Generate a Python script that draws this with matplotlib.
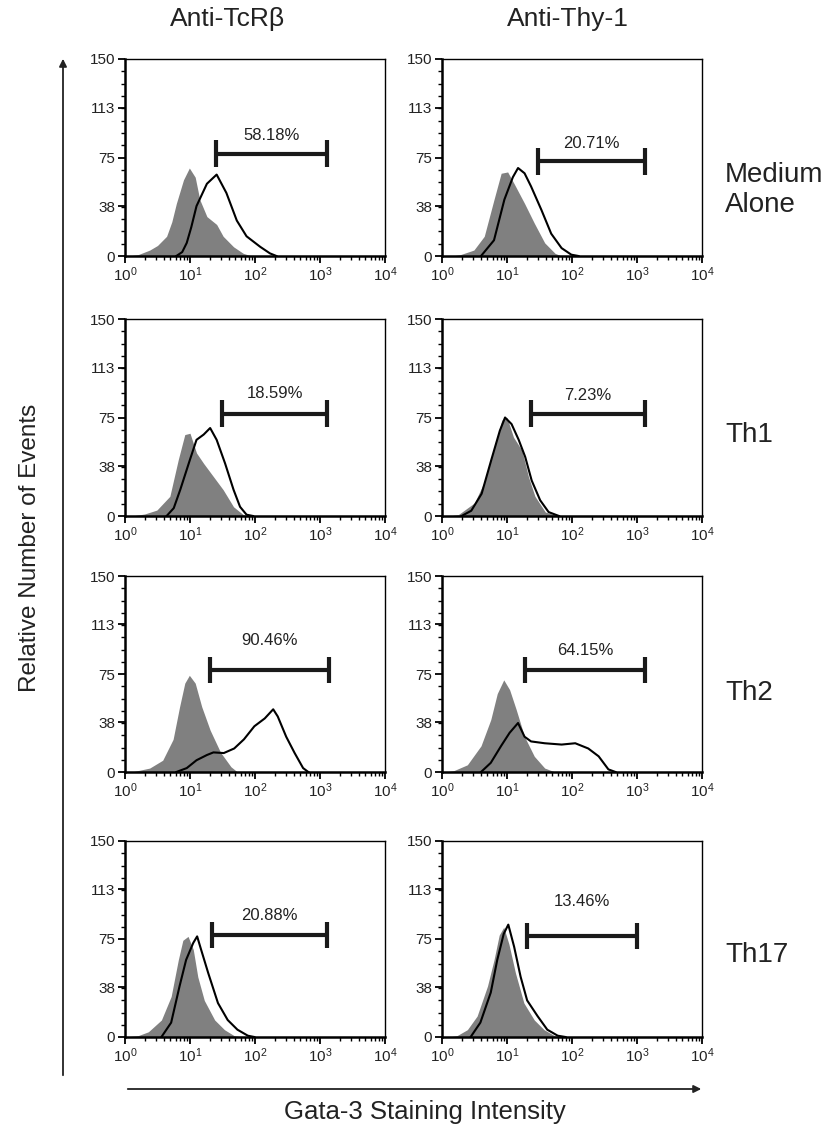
import numpy as np
import matplotlib
matplotlib.use("Agg")
import matplotlib.pyplot as plt
from matplotlib.ticker import FixedLocator, LogLocator, NullFormatter

plt.rcParams['font.family'] = ['Liberation Sans', 'DejaVu Sans']
plt.rcParams['mathtext.fontset'] = 'custom'
plt.rcParams['mathtext.rm'] = 'Liberation Sans'
plt.rcParams['mathtext.it'] = 'Liberation Sans'
plt.rcParams['mathtext.bf'] = 'Liberation Sans'

col_titles = ["Anti-TcRβ", "Anti-Thy-1"]
row_labels = ["Medium\nAlone", "Th1", "Th2", "Th17"]
y_ticks = [0, 38, 75, 113, 150]
percent_labels = ["58.18%", "20.71%", "18.59%", "7.23%",
                  "90.46%", "64.15%", "20.88%", "13.46%"]

# gate [left, right] in intensity units, height in events
gate_left = [25, 30, 31, 23, 20, 19, 22, 20]
gate_right = [1260, 1350, 1290, 1350, 1380, 1350, 1260, 1000]
gate_y = [78, 72, 78, 78, 78, 78, 78, 77]
label_y = [92, 86, 93, 92, 101, 93, 93, 104]

# ---- histograms: decade positions (log10 intensity) and counts ----
# Panel 1: TcRb / Medium alone
g1_x = [0.05, 0.2, 0.38, 0.5, 0.64, 0.72, 0.79, 0.9, 0.99, 1.08, 1.15, 1.26, 1.41, 1.51, 1.67, 1.82, 1.95]
g1_y = [0, 1, 4.5, 8, 15, 26, 40, 58, 67, 60, 43, 30, 24, 15, 7, 2, 0]
b1_x = [0.79, 0.88, 0.95, 1.02, 1.1, 1.26, 1.41, 1.56, 1.72, 1.87, 2.08, 2.23, 2.33]
b1_y = [0, 3, 10, 22, 38, 55, 62, 48, 27, 15, 7, 2, 0]
# Panel 2: Thy-1 / Medium alone
g2_x = [0.15, 0.28, 0.49, 0.65, 0.8, 0.91, 1.01, 1.11, 1.27, 1.42, 1.58, 1.74, 1.84]
g2_y = [0, 1, 4.5, 15, 43, 63, 64, 55, 40, 25, 10, 2, 0]
b2_x = [0.6, 0.8, 0.96, 1.09, 1.17, 1.27, 1.37, 1.53, 1.68, 1.84, 1.99, 2.1]
b2_y = [0, 12, 43, 60, 67, 63, 53, 35, 17, 6, 1, 0]
# Panel 3: TcRb / Th1
g3_x = [0.1, 0.3, 0.49, 0.69, 0.82, 0.92, 1.0, 1.1, 1.21, 1.36, 1.51, 1.67, 1.82, 1.92]
g3_y = [0, 1.5, 4.5, 15, 43, 62, 63, 48, 40, 30, 20, 7, 1, 0]
b3_x = [0.64, 0.75, 0.85, 1.0, 1.1, 1.21, 1.31, 1.41, 1.54, 1.67, 1.77, 1.87, 1.97]
b3_y = [0, 6, 20, 43, 58, 62, 67, 58, 40, 20, 7, 1, 0]
# Panel 4: Thy-1 / Th1
g4_x = [0.1, 0.25, 0.5, 0.66, 0.81, 0.92, 1.0, 1.1, 1.23, 1.33, 1.43, 1.59, 1.8]
g4_y = [0, 1, 10, 27, 53, 73, 75, 60, 50, 30, 15, 3, 0]
b4_x = [0.3, 0.45, 0.61, 0.76, 0.89, 0.97, 1.07, 1.18, 1.28, 1.38, 1.51, 1.64, 1.8]
b4_y = [0, 4, 17, 43, 65, 75, 70, 58, 45, 27, 12, 3, 0]
# Panel 5: TcRb / Th2
g5_x = [0.1, 0.38, 0.58, 0.74, 0.84, 0.92, 0.99, 1.08, 1.18, 1.31, 1.47, 1.63, 1.73]
g5_y = [0, 3, 9, 25, 50, 68, 74, 68, 50, 32, 15, 4, 0]
b5_x = [0.79, 0.95, 1.1, 1.26, 1.36, 1.52, 1.68, 1.83, 1.99, 2.15, 2.28, 2.35, 2.48, 2.61, 2.74, 2.82]
b5_y = [0, 3, 9, 13, 15, 14.5, 18, 25, 35, 41, 48, 42.5, 27, 14.5, 3, 0]
# Panel 6: Thy-1 / Th2
g6_x = [0.05, 0.18, 0.39, 0.6, 0.75, 0.85, 0.95, 1.04, 1.14, 1.27, 1.42, 1.58, 1.74]
g6_y = [0, 1, 5.5, 20, 40, 60, 70.5, 63, 48, 27, 12, 3, 0]
b6_x = [0.6, 0.75, 0.91, 1.04, 1.17, 1.27, 1.37, 1.58, 1.84, 2.05, 2.25, 2.41, 2.56, 2.67]
b6_y = [0, 7, 20, 30, 37.5, 27, 23.4, 22, 21, 22, 18, 12, 2, 0]
# Panel 7: TcRb / Th17
g7_x = [0.0, 0.2, 0.36, 0.56, 0.71, 0.82, 0.89, 0.97, 1.05, 1.12, 1.22, 1.38, 1.53, 1.68, 1.79]
g7_y = [0, 1, 4, 13, 31, 59, 74, 77, 67, 46, 28, 13, 5.6, 1, 0]
b7_x = [0.56, 0.71, 0.84, 0.94, 1.05, 1.11, 1.17, 1.28, 1.43, 1.58, 1.73, 1.89, 1.99]
b7_y = [0, 11, 39, 59, 72, 77, 67, 49, 26, 13, 5.6, 1, 0]
# Panel 8: Thy-1 / Th17
g8_x = [0.1, 0.23, 0.39, 0.54, 0.7, 0.8, 0.88, 0.95, 1.03, 1.13, 1.26, 1.42, 1.57, 1.73, 1.84]
g8_y = [0, 1, 5.6, 16, 39, 59, 78, 84, 71, 49, 26, 13, 5.6, 1, 0]
b8_x = [0.44, 0.59, 0.75, 0.85, 0.95, 1.02, 1.11, 1.21, 1.31, 1.47, 1.62, 1.78, 1.9]
b8_y = [0, 11, 34, 59, 79, 86, 69, 46, 28, 16, 5.6, 1, 0]

gray_x = [g1_x, g2_x, g3_x, g4_x, g5_x, g6_x, g7_x, g8_x]
gray_y = [g1_y, g2_y, g3_y, g4_y, g5_y, g6_y, g7_y, g8_y]
black_x = [b1_x, b2_x, b3_x, b4_x, b5_x, b6_x, b7_x, b8_x]
black_y = [b1_y, b2_y, b3_y, b4_y, b5_y, b6_y, b7_y, b8_y]

W, H = 833, 1135
fig = plt.figure(figsize=(W / 100, H / 100), dpi=100)

col_px = [(125, 385), (442, 702)]
row_px = [(59, 256), (319, 516), (576, 772), (841, 1037)]
text_c = "#222222"
fill_c = "#808080"

for r in range(4):
    for c in range(2):
        i = r * 2 + c
        x0, x1 = col_px[c]
        y0, y1 = row_px[r]
        ax = fig.add_axes([x0 / W, 1 - y1 / H, (x1 - x0) / W, (y1 - y0) / H])
        ax.set_xscale('log')
        ax.set_xlim(1, 1e4)
        ax.set_ylim(0, 150)
        gx = 10 ** np.array(gray_x[i])
        bx = 10 ** np.array(black_x[i])
        ax.fill_between(gx, gray_y[i], 0, color=fill_c, lw=0, zorder=2)
        ax.plot(bx, black_y[i], color="black", lw=1.5, zorder=3)
        # gate
        gl, gr, gy = gate_left[i], gate_right[i], gate_y[i]
        ax.plot([gl, gr], [gy, gy], color="#1a1a1a", lw=3, zorder=4, solid_capstyle='butt')
        ax.plot([gl, gl], [gy - 10, gy + 10], color="#1a1a1a", lw=3, zorder=4, solid_capstyle='butt')
        ax.plot([gr, gr], [gy - 10, gy + 10], color="#1a1a1a", lw=3, zorder=4, solid_capstyle='butt')
        ax.text(np.sqrt(gl * gr), label_y[i], percent_labels[i], ha='center', va='center',
                fontsize=12, color=text_c, zorder=5)
        # ticks
        ax.yaxis.set_major_locator(FixedLocator(y_ticks))
        ax.yaxis.set_minor_locator(FixedLocator(list(np.arange(0, 150.1, 150 / 16))))
        ax.xaxis.set_major_locator(LogLocator(base=10, numticks=10))
        ax.xaxis.set_minor_locator(LogLocator(base=10, subs=np.arange(2, 10), numticks=20))
        ax.xaxis.set_minor_formatter(NullFormatter())
        ax.tick_params(axis='both', which='major', direction='out', length=5, width=1.3,
                       labelsize=11, colors="black", labelcolor=text_c, pad=2)
        ax.tick_params(axis='both', which='minor', direction='out', length=3, width=1.0)
        for s in ['left', 'bottom']:
            ax.spines[s].set_linewidth(1.8)
        for s in ['top', 'right']:
            ax.spines[s].set_linewidth(1.0)

# column titles
fig.text(228 / W, 1 - 19 / H, col_titles[0], ha='center', va='center', fontsize=19, color=text_c)
fig.text(568 / W, 1 - 19 / H, col_titles[1], ha='center', va='center', fontsize=19, color=text_c)

# row labels
row_label_y = [190, 435, 693, 955]
for lbl, yy in zip(row_labels, row_label_y):
    fig.text(725 / W, 1 - yy / H, lbl, ha='left', va='center', fontsize=20,
             color=text_c, linespacing=1.25)

# axis arrows and labels
fig.add_artist(matplotlib.patches.FancyArrowPatch(
    (63 / W, 1 - 1078 / H), (63 / W, 1 - 56 / H), transform=fig.transFigure,
    arrowstyle='-|>', mutation_scale=11, lw=1.3, color="#222222"))
fig.add_artist(matplotlib.patches.FancyArrowPatch(
    (125 / W, 1 - 1089 / H), (704 / W, 1 - 1089 / H), transform=fig.transFigure,
    arrowstyle='-|>', mutation_scale=11, lw=1.3, color="#222222"))
fig.text(30 / W, 1 - 548 / H, "Relative Number of Events", rotation=90, ha='center',
         va='center', fontsize=17.5, color=text_c)
fig.text(425 / W, 1 - 1112 / H, "Gata-3 Staining Intensity", ha='center', va='center',
         fontsize=18.5, color=text_c)

fig.savefig("out.png", dpi=100, facecolor="white")
